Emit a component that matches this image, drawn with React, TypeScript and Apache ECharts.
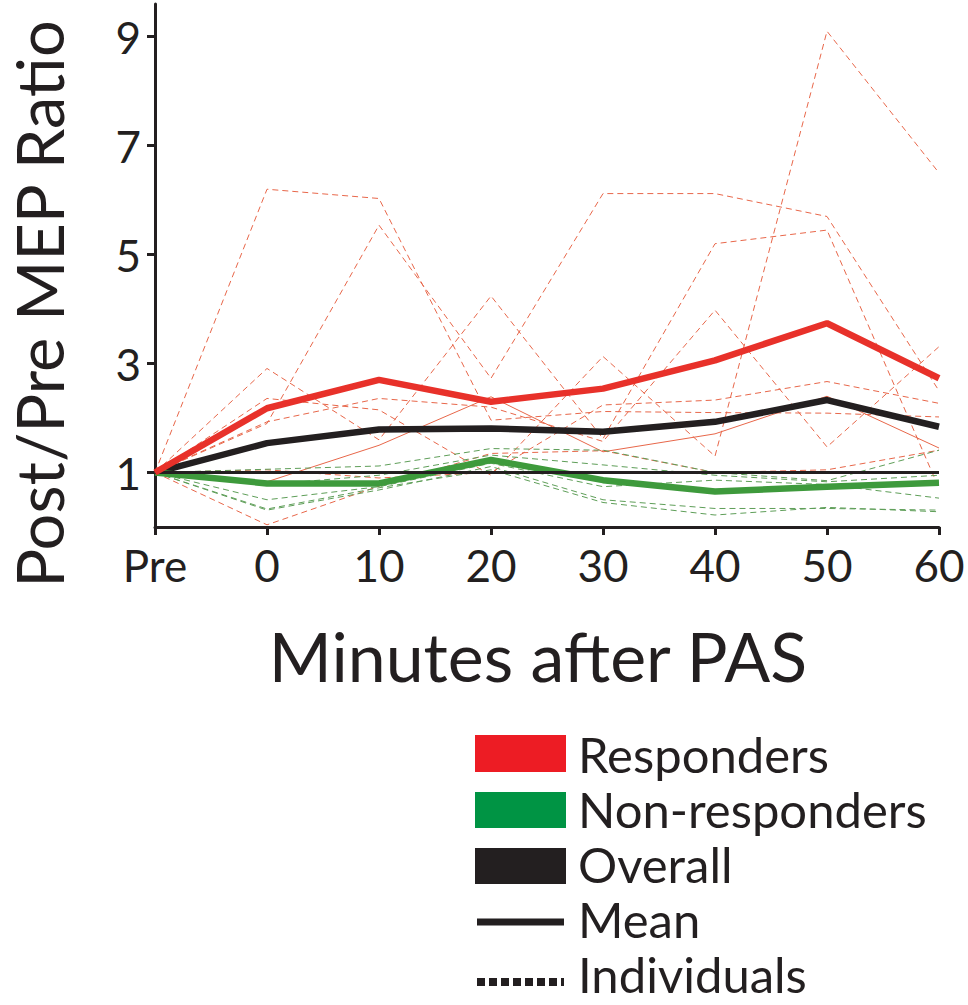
import React, { useEffect, useRef } from "react";
import * as echarts from "echarts";

const categories = ["Pre", "0", "10", "20", "30", "40", "50", "60"];
const yTickValues = [1, 3, 5, 7, 9];

const respondersMean = [1, 2.18, 2.7, 2.3, 2.54, 3.06, 3.74, 2.73];
const overallMean = [1, 1.54, 1.79, 1.81, 1.75, 1.93, 2.33, 1.84];
const nonRespondersMean = [1, 0.8, 0.8, 1.23, 0.86, 0.65, 0.74, 0.81];

const responder1 = [1, 6.2, 6.03, 1.96, 2.12, 2.1, 2.09, 2.02];
const responder2 = [1, 1.9, 5.54, 2.73, 6.12, 6.12, 5.7, 2.5];
const responder3 = [1, 2.91, 1.6, 4.24, 1.62, 5.2, 5.45, 0.71];
const responder4 = [1, 2.36, 2.15, 0.95, 3.13, 1.3, 9.1, 6.5];
const responder5 = [1, 1.93, 2.36, 2.2, 1.57, 3.98, 1.47, 3.31];
const responder6 = [1, 1.05, 0.9, 1.0, 2.24, 2.33, 2.67, 2.27];
const responder7 = [1, 0.04, 0.75, 1.35, 1.4, 1.0, 1.05, 1.41];
const responderSolid = [1, 0.83, 1.5, 2.39, 1.38, 1.71, 2.4, 1.45];

const nonResponder1 = [1, 1.06, 1.12, 1.44, 1.41, 1.0, 0.85, 1.41];
const nonResponder2 = [1, 0.78, 0.95, 1.32, 1.14, 0.95, 0.83, 0.95];
const nonResponder3 = [1, 0.5, 0.74, 1.17, 0.74, 0.86, 0.78, 0.53];
const nonResponder4 = [1, 0.31, 0.68, 1.11, 0.5, 0.34, 0.34, 0.31];
const nonResponder5 = [1, 0.33, 0.72, 1.05, 0.45, 0.22, 0.36, 0.28];

const responderIndividuals = [responder1, responder2, responder3, responder4, responder5, responder6, responder7];
const nonResponderIndividuals = [nonResponder1, nonResponder2, nonResponder3, nonResponder4, nonResponder5];

const legendItems = ["Responders", "Non-responders", "Overall", "Mean", "Individuals"];

const FONT = "Lato";
const INK = "#231F20";

export default function App() {
  const ref = useRef<HTMLDivElement>(null);

  useEffect(() => {
    document.body.style.margin = "0";
    const chart = echarts.init(ref.current!, null, { renderer: "svg" });

    const dashedRed = responderIndividuals.map((d, i) => ({
      name: "R" + i,
      type: "line",
      data: d,
      symbol: "none",
      z: 2,
      lineStyle: { color: "#E8674A", width: 1, type: [6, 4] },
    }));
    const dashedGreen = nonResponderIndividuals.map((d, i) => ({
      name: "N" + i,
      type: "line",
      data: d,
      symbol: "none",
      z: 2,
      lineStyle: { color: "#5E9E58", width: 1, type: [6, 4] },
    }));

    const option = {
      animation: false,
      grid: { left: 155, right: 29, top: 4, bottom: 478, containLabel: false },
      xAxis: {
        type: "category",
        data: categories,
        boundaryGap: false,
        axisLine: { lineStyle: { color: INK, width: 3 } },
        axisTick: { show: true, length: 8, lineStyle: { color: INK, width: 3 } },
        axisLabel: { fontSize: 44, color: INK, fontFamily: FONT, margin: 16 },
        splitLine: { show: false },
      },
      yAxis: {
        type: "value",
        min: 0,
        max: 9.6,
        axisLine: { show: true, lineStyle: { color: INK, width: 3 } },
        axisTick: { show: true, length: 8, customValues: yTickValues, lineStyle: { color: INK, width: 3 } },
        axisLabel: { fontSize: 44, color: INK, fontFamily: FONT, margin: 14, customValues: yTickValues },
        splitLine: { show: false },
      },
      series: [
        ...dashedRed,
        {
          name: "RS",
          type: "line",
          data: responderSolid,
          symbol: "none",
          z: 2,
          lineStyle: { color: "#E8674A", width: 1 },
        },
        ...dashedGreen,
        {
          name: "baseline",
          type: "line",
          data: [],
          z: 3,
          markLine: {
            silent: true,
            symbol: ["none", "none"],
            label: { show: false },
            lineStyle: { color: INK, width: 3, type: "solid" },
            data: [{ yAxis: 1 }],
          },
        },
        {
          name: "Overall",
          type: "line",
          data: overallMean,
          symbol: "none",
          z: 4,
          lineStyle: { color: INK, width: 6.5 },
        },
        {
          name: "Non-responders",
          type: "line",
          data: nonRespondersMean,
          symbol: "none",
          z: 4,
          lineStyle: { color: "#3E9A3C", width: 6.5 },
        },
        {
          name: "Responders",
          type: "line",
          data: respondersMean,
          symbol: "none",
          z: 5,
          lineStyle: { color: "#E8312A", width: 6.5 },
        },
      ],
      graphic: [
        {
          type: "text",
          x: 39,
          y: 304,
          rotation: Math.PI / 2,
          style: {
            text: "Post/Pre MEP Ratio",
            font: `65px ${FONT}`,
            fill: INK,
            textAlign: "center",
            textVerticalAlign: "middle",
          },
        },
        {
          type: "text",
          x: 538,
          y: 655,
          style: {
            text: "Minutes after PAS",
            font: `68px ${FONT}`,
            fill: INK,
            textAlign: "center",
            textVerticalAlign: "middle",
          },
        },
        { type: "rect", shape: { x: 475, y: 735, width: 91, height: 37 }, style: { fill: "#ED1C24" } },
        { type: "rect", shape: { x: 475, y: 792, width: 91, height: 36 }, style: { fill: "#009444" } },
        { type: "rect", shape: { x: 475, y: 848, width: 91, height: 36 }, style: { fill: INK } },
        { type: "line", shape: { x1: 477, y1: 922, x2: 564, y2: 922 }, style: { stroke: INK, lineWidth: 7 } },
        {
          type: "line",
          shape: { x1: 477, y1: 982, x2: 564, y2: 982 },
          style: { stroke: INK, lineWidth: 8, lineDash: [8, 4] },
        },
        ...legendItems.map((t, i) => ({
          type: "text",
          x: 578,
          y: [754, 809, 864, 919, 974][i],
          style: {
            text: t,
            font: `49px ${FONT}`,
            fill: INK,
            textAlign: "left",
            textVerticalAlign: "middle",
          },
        })),
      ],
    };

    chart.setOption(option as any);
    return () => chart.dispose();
  }, []);

  return <div ref={ref} style={{ width: 968, height: 1005 }} />;
}
